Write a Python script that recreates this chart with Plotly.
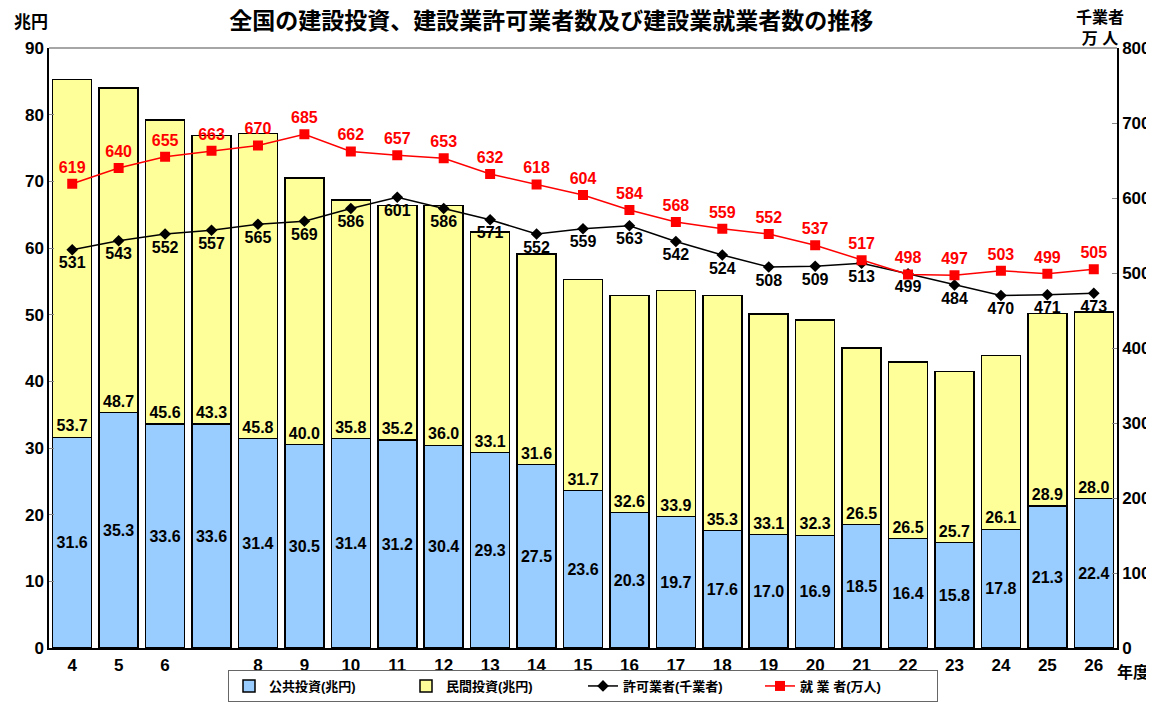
import plotly.graph_objects as go

years = [4, 5, 6, 7, 8, 9, 10, 11, 12, 13, 14, 15, 16, 17, 18, 19, 20, 21, 22, 23, 24, 25, 26]
year_labels = ["4", "5", "6", "", "8", "9", "10", "11", "12", "13", "14", "15", "16",
               "17", "18", "19", "20", "21", "22", "23", "24", "25", "26"]
public_inv = [31.6, 35.3, 33.6, 33.6, 31.4, 30.5, 31.4, 31.2, 30.4, 29.3, 27.5, 23.6, 20.3,
              19.7, 17.6, 17.0, 16.9, 18.5, 16.4, 15.8, 17.8, 21.3, 22.4]
private_inv = [53.7, 48.7, 45.6, 43.3, 45.8, 40.0, 35.8, 35.2, 36.0, 33.1, 31.6, 31.7, 32.6,
               33.9, 35.3, 33.1, 32.3, 26.5, 26.5, 25.7, 26.1, 28.9, 28.0]
licensed = [531, 543, 552, 557, 565, 569, 586, 601, 586, 571, 552, 559, 563, 542, 524, 508,
            509, 513, 499, 484, 470, 471, 473]
workers = [619, 640, 655, 663, 670, 685, 662, 657, 653, 632, 618, 604, 584, 568, 559, 552,
           537, 517, 498, 497, 503, 499, 505]

FONT = "Arial, 'Liberation Sans', 'Noto Sans CJK JP', sans-serif"
LBL = dict(family=FONT, size=16, color="black")

fig = go.Figure()
fig.add_trace(go.Bar(
    x=years, y=public_inv, name="<b>公共投資(兆円)</b>",
    marker=dict(color="#99CCFF", line=dict(color="black", width=1.5)),
    text=[f"<b>{v:.1f}</b>" for v in public_inv], textposition="inside",
    insidetextanchor="middle", textfont=LBL, textangle=0,
))
fig.add_trace(go.Bar(
    x=years, y=private_inv, name="<b>民間投資(兆円)</b>",
    marker=dict(color="#FFFF99", line=dict(color="black", width=1.5)),
    text=[f"<b>{v:.1f}</b>" for v in private_inv], textposition="inside",
    insidetextanchor="start", textfont=LBL, textangle=0,
))
fig.add_trace(go.Scatter(
    x=years, y=licensed, name="<b>許可業者(千業者)</b>", yaxis="y2",
    mode="lines+markers+text",
    line=dict(color="black", width=1.5),
    marker=dict(symbol="diamond", size=9, color="black"),
    text=[f"<b>{v}</b>" for v in licensed], textposition="bottom center",
    textfont=dict(family=FONT, size=16, color="black"),
))
fig.add_trace(go.Scatter(
    x=years, y=workers, name="<b>就 業 者(万人)</b>", yaxis="y2",
    mode="lines+markers+text",
    line=dict(color="red", width=1.5),
    marker=dict(symbol="square", size=10, color="red"),
    text=[f"<b>{v}</b>" for v in workers], textposition="top center",
    textfont=dict(family=FONT, size=16, color="red"),
))

fig.update_layout(
    width=1146, height=694,
    paper_bgcolor="white", plot_bgcolor="white",
    barmode="stack", bargap=0.16,
    margin=dict(l=41, r=37, t=40, b=54),
    font=dict(family=FONT, size=16, color="black"),
    title=dict(text="<b>全国の建設投資、建設業許可業者数及び建設業就業者数の推移</b>",
               x=0.474, xanchor="center", y=0.982, yanchor="middle",
               font=dict(family=FONT, size=23, color="black")),
    xaxis=dict(tickmode="array", tickvals=years, ticktext=[f"<b>{t}</b>" for t in year_labels],
               range=[3.5, 26.5], showline=True, linecolor="black", linewidth=1.5,
               mirror=False, ticks="", showgrid=False, automargin=False,
               ticklabelstandoff=1,
               tickfont=dict(family=FONT, size=17, color="black")),
    yaxis=dict(range=[0, 90], dtick=10, showline=True, linecolor="black", linewidth=1.5,
               ticks="inside", ticklen=5, tickcolor="#888", showgrid=False, zeroline=False,
               automargin=False,
               tickfont=dict(family=FONT, size=17, color="black"), tickprefix="<b>", ticksuffix="</b>"),
    yaxis2=dict(range=[0, 800], dtick=100, overlaying="y", side="right",
                showline=True, linecolor="black", linewidth=1.5, automargin=False,
                ticks="inside", ticklen=5, tickcolor="#888", showgrid=False, zeroline=False,
                tickfont=dict(family=FONT, size=17, color="black"), tickprefix="<b>", ticksuffix="</b>"),
    legend=dict(orientation="h", x=0.5, xanchor="center", yref="container", y=-0.005, yanchor="bottom",
                bordercolor="#666", borderwidth=1, bgcolor="white", traceorder="normal",
                font=dict(family=FONT, size=13, color="black"),
                entrywidth=132, entrywidthmode="pixels",
                tracegroupgap=0),
    showlegend=True,
)

fig.add_shape(type="line", xref="paper", yref="paper", x0=0, x1=1, y0=1, y1=1,
              line=dict(color="#888", width=1.5))

fig.add_annotation(text="<b>兆円</b>", xref="paper", yref="paper", x=-0.017, y=1.043,
                   xanchor="center", yanchor="middle", showarrow=False,
                   font=dict(family=FONT, size=17, color="black"))
fig.add_annotation(text="<b>千業者<br>万 人</b>", xref="paper", yref="paper", x=0.984, y=0.998,
                   xanchor="center", yanchor="bottom", showarrow=False,
                   font=dict(family=FONT, size=16, color="black"))
fig.add_annotation(text="<b>年度</b>", xref="paper", yref="paper", x=0.998, y=-0.04,
                   xanchor="left", yanchor="middle", showarrow=False,
                   font=dict(family=FONT, size=16, color="black"))

fig.write_html("out.html")
